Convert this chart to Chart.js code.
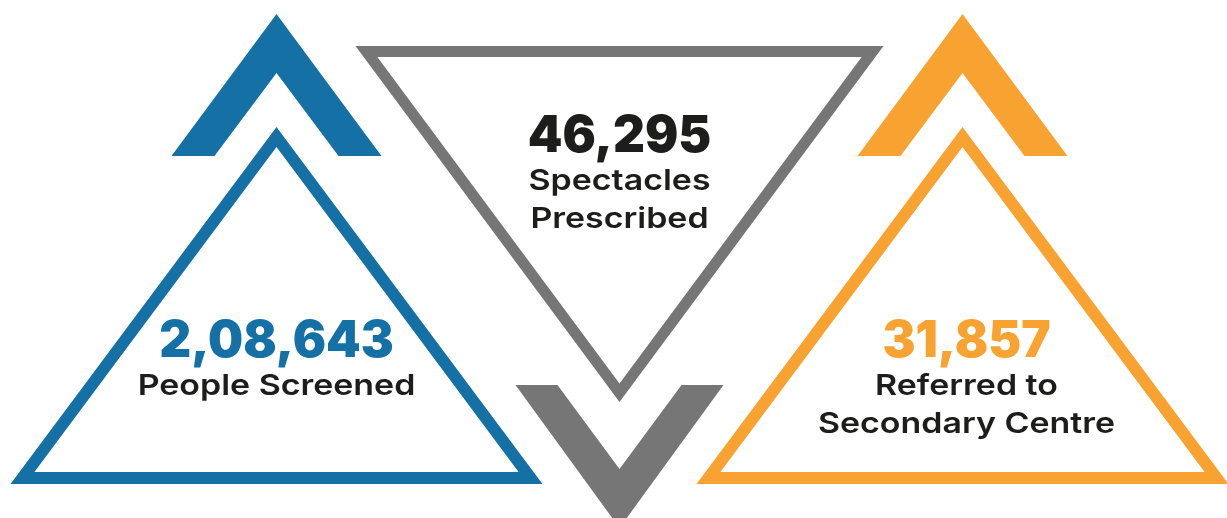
<!DOCTYPE html>
<html>
<head>
<meta charset="utf-8">
<title>Eye care outreach</title>
<script src="https://cdn.jsdelivr.net/npm/chart.js@4.4.1/dist/chart.umd.min.js"></script>
<style>
  html, body { margin: 0; padding: 0; background: #fff; }
  #wrap { position: relative; width: 1227px; height: 518px; }
</style>
</head>
<body>
<div id="wrap"><canvas id="infographic"></canvas></div>
<script>
// data
var categories = ['People Screened', 'Spectacles Prescribed', 'Referred to Secondary Centre'];
var labelLines = [['People Screened'], ['Spectacles', 'Prescribed'], ['Referred to', 'Secondary Centre']];
var values = [208643, 46295, 31857];

// styles
var colours = ['#1570a6', '#767676', '#f7a231'];
var numberColours = ['#1570a6', '#1d1d1b', '#f7a231'];
var pointsUp = [true, false, true];
var textFont = 'Inter, "DejaVu Sans", sans-serif';

// indian digit grouping, 208643 -> 2,08,643
function fmtIN(n) {
    var s = String(Math.round(n));
    if (s.length <= 3) return s;
    var last = s.slice(-3), rest = s.slice(0, -3);
    rest = rest.replace(/\B(?=(\d{2})+(?!\d))/g, ',');
    return rest + ',' + last;
}

function poly(ctx, pts) {
    ctx.moveTo(pts[0][0], pts[0][1]);
    for (var i = 1; i < pts.length; i++) ctx.lineTo(pts[i][0], pts[i][1]);
    ctx.closePath();
}

// outline triangle, apexY -> baseY, stroke t
function triangleOutline(ctx, cx, apexY, baseY, half, t) {
    var dir = baseY > apexY ? 1 : -1;
    var H = Math.abs(baseY - apexY);
    var tan = half / H;
    var sin = Math.sin(Math.atan(tan));
    var da = t / sin;
    var ih = H - t - da;
    var ihalf = ih * tan;
    var iApex = apexY + dir * da, iBase = baseY - dir * t;
    ctx.beginPath();
    poly(ctx, [[cx, apexY], [cx + half, baseY], [cx - half, baseY]]);
    poly(ctx, [[cx, iApex], [cx - ihalf, iBase], [cx + ihalf, iBase]]);
    ctx.fill('evenodd');
}

function chevron(ctx, cx, apexY, baseY, half, innerApexY, innerHalf) {
    ctx.beginPath();
    poly(ctx, [[cx - half, baseY], [cx, apexY], [cx + half, baseY],
               [cx + innerHalf, baseY], [cx, innerApexY], [cx - innerHalf, baseY]]);
    ctx.fill();
}

// the original font is a wide geometric sans, so stretch a bit
function wideText(ctx, text, x, y, sx) {
    ctx.save();
    ctx.translate(x, y);
    ctx.scale(sx, 1);
    ctx.fillText(text, 0, 0);
    ctx.restore();
}

var shapesPlugin = {
    id: 'shapes',
    afterDatasetsDraw: function (chart) {
        var ctx = chart.ctx;
        var x = chart.scales.x;
        var top = chart.chartArea.top;
        var vals = chart.data.datasets[0].data;
        ctx.save();
        vals.forEach(function (v, i) {
            var cx = x.getPixelForValue(i);
            ctx.fillStyle = colours[i];
            var textY, tx = cx;
            if (pointsUp[i]) {
                chevron(ctx, cx, top + 14, top + 156, 105, top + 73, 62);
                triangleOutline(ctx, cx, top + 127, top + 484, 266, 12);
                textY = top + 357;
                if (i > 0) tx = cx + 4;
            } else {
                triangleOutline(ctx, cx, top + 402, top + 46, 264, 11);
                chevron(ctx, cx, top + 528, top + 385, 104, top + 469, 62);
                textY = top + 152;
            }
            ctx.textAlign = 'center';
            ctx.textBaseline = 'alphabetic';
            ctx.fillStyle = numberColours[i];
            ctx.font = '900 51px ' + textFont;
            wideText(ctx, fmtIN(v), tx, textY, 0.97);
            ctx.fillStyle = '#1d1d1b';
            ctx.font = '600 29px ' + textFont;
            labelLines[i].forEach(function (line, k) {
                wideText(ctx, line, tx, textY + 38 * (k + 1), 1.17);
            });
        });
        ctx.restore();
    }
};

new Chart(document.getElementById('infographic').getContext('2d'), {
    type: 'bar',
    data: {
        labels: categories,
        datasets: [{
            label: 'Outreach',
            data: values,
            backgroundColor: 'rgba(0,0,0,0)',
            borderWidth: 0
        }]
    },
    options: {
        responsive: true,
        maintainAspectRatio: false,
        animation: false,
        events: [],
        layout: { padding: { left: 105, right: 93, top: 0, bottom: 0 } },
        plugins: { legend: { display: false }, tooltip: { enabled: false } },
        scales: {
            x: { display: false, offset: true },
            y: { display: false, min: 0 }
        }
    },
    plugins: [shapesPlugin]
});
</script>
</body>
</html>
